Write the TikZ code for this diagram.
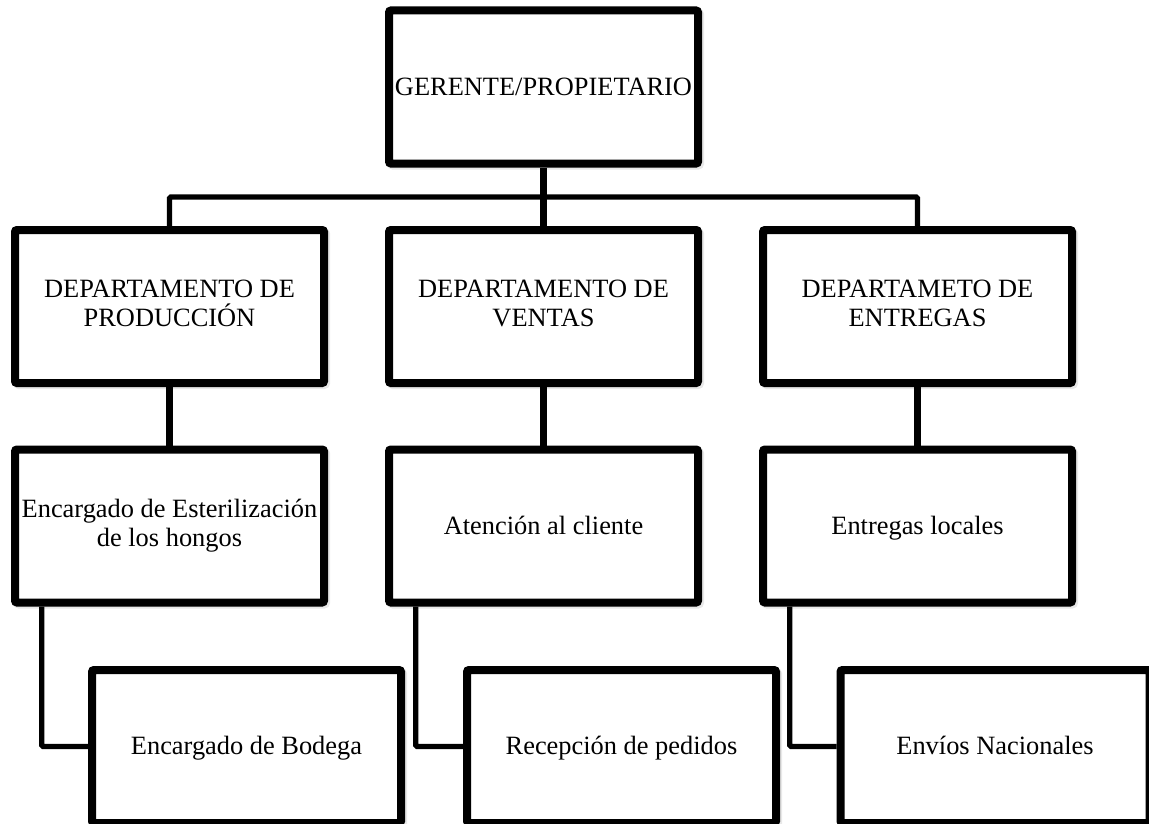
\documentclass[tikz,border=0pt]{standalone}
\usepackage{fontspec}
\setmainfont{Liberation Serif}
\usetikzlibrary{shadows}

\begin{document}
\begin{tikzpicture}[x=0.75pt,y=-0.75pt,
caja/.style={draw,line width=6pt,rounded corners=1.5pt,fill=white,minimum width=231.75pt,minimum height=114.75pt,inner sep=0pt,align=center,font=\fontsize{19.8}{22}\selectfont,execute at begin node={\rule{0pt}{16.5pt}},execute at end node={\rule[-4.5pt]{0pt}{4.5pt}},drop shadow={shadow xshift=1.5pt,shadow yshift=-1.5pt,fill=black!18,draw=black!18,line width=6pt}},
linea/.style={line width=3.9pt,rounded corners=1pt},
tronco/.style={line width=4.6pt}]
\useasboundingbox(0,0)rectangle(1149,824);
\node[caja](g)at(543.5,87){GERENTE/PROPIETARIO};
\node[caja](dp)at(169.5,306.5){DEPARTAMENTO DE\\PRODUCCIÓN};
\node[caja](dv)at(543.5,306.5){DEPARTAMENTO DE\\VENTAS};
\node[caja](de)at(917.5,306.5){DEPARTAMETO DE\\ENTREGAS};
\node[caja](ee)at(169.5,526){Encargado de Esterilización\\de los hongos};
\node[caja](ac)at(543.5,526){Atención al cliente};
\node[caja](el)at(917.5,526){Entregas locales};
\node[caja](bo)at(246.5,746.5){Encargado de Bodega};
\node[caja](rp)at(621.5,746.5){Recepción de pedidos};
\node[caja](en)at(995,746.5){Envíos Nacionales};
\coordinate(bus)at(543.5,197);
\draw[tronco](g.south)--(dv.north);
\draw[linea](dp.north)|-(bus)-|(de.north);
\draw[tronco](dp.south)--(ee.north);
\draw[tronco](dv.south)--(ac.north);
\draw[tronco](de.south)--(el.north);
\draw[linea]([xshift=23pt]ee.south west)|-(bo.west);
\draw[linea]([xshift=23pt]ac.south west)|-(rp.west);
\draw[linea]([xshift=23pt]el.south west)|-(en.west);
\end{tikzpicture}
\end{document}
